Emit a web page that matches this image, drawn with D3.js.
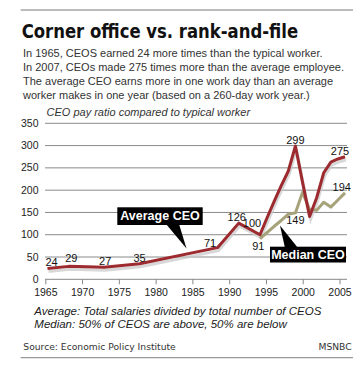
<!DOCTYPE html>
<html><head><meta charset="utf-8">
<script src="https://cdn.jsdelivr.net/npm/d3@7"></script>
<style>
html,body{margin:0;padding:0;background:#fff;}
svg{display:block;}
</style></head>
<body>
<svg id="c" width="353" height="367"></svg>
<script>
// ---- data ----
const years = [1965,1968,1973,1978,1989,1992,1995,1996,1997,1998,1999,2000,2001,2002,2003,2004,2005,2006,2007];
const averageCEO = [24,29,27,35,71,126,100,138,175,210,243,299,218,141,183,239,263,270,275];
const medianYears = [1995,1996,1997,1998,1999,2000,2001,2002,2003,2004,2005,2006,2007];
const medianCEO = [91,105,119,132,146,149,195,157,155,173,162,178,194];
const yTicks = [0,50,100,150,200,250,300,350];
const xTickLabels = [1965,1970,1975,1980,1985,1990,1995,2000,2005];
const avgLabels = [[1965,24],[1968,29],[1973,27],[1978,35],[1989,71],[1992,126],[1995,100],[2000,299],[2007,275]];
const medLabels = [[1995,91],[2000,149],[2007,194]];
const titleText = "Corner office vs. rank-and-file";
const subtitle = [
  "In 1965, CEOS earned 24 more times than the typical worker.",
  "In 2007, CEOs made 275 times more than the average employee.",
  "The average CEO earns more in one work day than an average",
  "worker makes in one year (based on a 260-day work year.)"
];
const axisTitle = "CEO pay ratio compared to typical worker";
const notes = ["Average: Total salaries divided by total number of CEOS",
               "Median: 50% of CEOS are above, 50% are below"];
const source = "Source: Economic Policy Institute";
const credit = "MSNBC";

// ---- layout ----
const svg = d3.select("#c");
const RED = "#9c2a2e", OLIVE = "#a6a27a";
const x = d3.scaleLinear().domain([1965, 2007]).range([47.5, 345]);
const xAxisScale = d3.scaleLinear().domain([1965, 2005]).range([45.3, 339.5]);
const y = d3.scaleLinear().domain([0, 350]).range([279.3, 123.3]);

// rules
svg.append("line").attr("x1",20.7).attr("x2",353).attr("y1",10).attr("y2",10)
  .attr("stroke","#bbb").attr("stroke-width",2);
svg.append("line").attr("x1",20.7).attr("x2",353).attr("y1",357.7).attr("y2",357.7)
  .attr("stroke","#999").attr("stroke-width",1.2);

// title (horizontally condensed to the reference width)
const title = svg.append("text").text(titleText).attr("x",0).attr("y",0)
  .attr("font-family","DejaVu Sans").attr("font-weight","bold").attr("font-size",20)
  .attr("fill","#111");
const natural = title.node().getComputedTextLength();
title.attr("transform",`translate(21.7,37.8) scale(${276.6/natural},1)`);

svg.append("g").selectAll("text").data(subtitle).join("text")
  .text(d=>d).attr("x",23).attr("y",(d,i)=>57+i*14)
  .attr("font-family","Liberation Sans, Arial").attr("font-size",11).attr("fill","#333");

svg.append("text").text(axisTitle).attr("x",46.5).attr("y",116)
  .attr("font-family","Liberation Sans, Arial").attr("font-style","italic").attr("font-size",11).attr("fill","#333");

// grid
const g = svg.append("g");
g.selectAll("line.grid").data(yTicks.filter(v=>v>0)).join("line")
  .attr("x1",45).attr("x2",347).attr("y1",d=>y(d)).attr("y2",d=>y(d))
  .attr("stroke","#8a8a8a").attr("stroke-width",1);
g.selectAll("text.yl").data(yTicks).join("text")
  .text(d=>d).attr("x",38.5).attr("y",d=>y(d)+3.6).attr("text-anchor","end")
  .attr("font-family","Liberation Sans, Arial").attr("font-size",10.5).attr("fill","#222");

// x axis
const xa = svg.append("g").attr("transform",`translate(0,${y(0)})`)
  .call(d3.axisBottom(xAxisScale).tickValues(xTickLabels).tickFormat(d3.format("d")).tickSize(5).tickPadding(4));
xa.select(".domain").attr("d",`M45,0H347`).attr("stroke","#888");
xa.selectAll(".tick line").attr("stroke","#888");
xa.selectAll(".tick text").attr("font-family","Liberation Sans, Arial").attr("font-size",10.5).attr("fill","#222");

// lines
const line = d3.line().x(d=>x(d[0])).y(d=>y(d[1]));
const avgData = years.map((yr,i)=>[yr, averageCEO[i]]);
const medData = medianYears.map((yr,i)=>[yr, medianCEO[i]]);
svg.append("path").datum(avgData).attr("d",line).attr("fill","none")
  .attr("stroke","#c8c8c8").attr("stroke-width",3).attr("transform","translate(1,3)").attr("opacity",0.7);
svg.append("path").datum(medData).attr("d",line).attr("fill","none")
  .attr("stroke",OLIVE).attr("stroke-width",3).attr("stroke-linejoin","round");
svg.append("path").datum(avgData).attr("d",line).attr("fill","none")
  .attr("stroke",RED).attr("stroke-width",3).attr("stroke-linejoin","round");

// value labels
const avgOff = {1965:[4,-2.3],1968:[2.5,-4.5],1973:[1,-2.5],1978:[0,-2],1989:[-7.5,-1],1992:[-2,-2.5],1995:[-8,-7.4],2000:[0,-2],2007:[-5,-1.7]};
const medOff = {1995:[-1.7,11.3],2000:[0,11],2007:[-3.3,-2]};
const lab = svg.append("g").attr("font-family","Liberation Sans, Arial").attr("font-size",11).attr("fill","#111").attr("text-anchor","middle");
lab.selectAll("text.a").data(avgLabels).join("text").attr("class","a")
  .text(d=>d[1]).attr("x",d=>x(d[0])+avgOff[d[0]][0]).attr("y",d=>y(d[1])+avgOff[d[0]][1]);
lab.selectAll("text.m").data(medLabels).join("text").attr("class","m")
  .text(d=>d[1]).attr("x",d=>x(d[0])+medOff[d[0]][0]).attr("y",d=>y(d[1])+medOff[d[0]][1]);

// callouts
function callout(bx,by,bw,bh,tri,text){
  const c = svg.append("g");
  c.append("path").attr("d",`M${tri[0][0]},${tri[0][1]}L${tri[1][0]},${tri[1][1]}L${tri[2][0]},${tri[2][1]}Z`).attr("fill","#000");
  c.append("rect").attr("x",bx).attr("y",by).attr("width",bw).attr("height",bh).attr("fill","#000");
  c.append("text").text(text).attr("x",bx+bw/2).attr("y",by+bh/2+4.3).attr("text-anchor","middle")
    .attr("font-family","Liberation Sans, Arial").attr("font-weight","bold").attr("font-size",12.5).attr("fill","#fff");
}
callout(117.3,207.3,85.4,17.7,[[166,224],[179,224],[186.5,248.5]],"Average CEO");
callout(270,246.7,76,15.8,[[285,248],[298,248],[280,225.5]],"Median CEO");

// notes
svg.append("g").selectAll("text").data(notes).join("text")
  .text(d=>d).attr("x",34.3).attr("y",(d,i)=>314.5+i*13)
  .attr("font-family","Liberation Sans, Arial").attr("font-style","italic").attr("font-size",11.5).attr("fill","#222");
svg.append("text").text(source).attr("x",23.3).attr("y",350)
  .attr("font-family","DejaVu Sans").attr("font-size",9.2).attr("fill","#333");
svg.append("text").text(credit).attr("x",351.7).attr("y",350).attr("text-anchor","end")
  .attr("font-family","DejaVu Sans").attr("font-size",9.2).attr("fill","#333");
</script>
</body></html>
